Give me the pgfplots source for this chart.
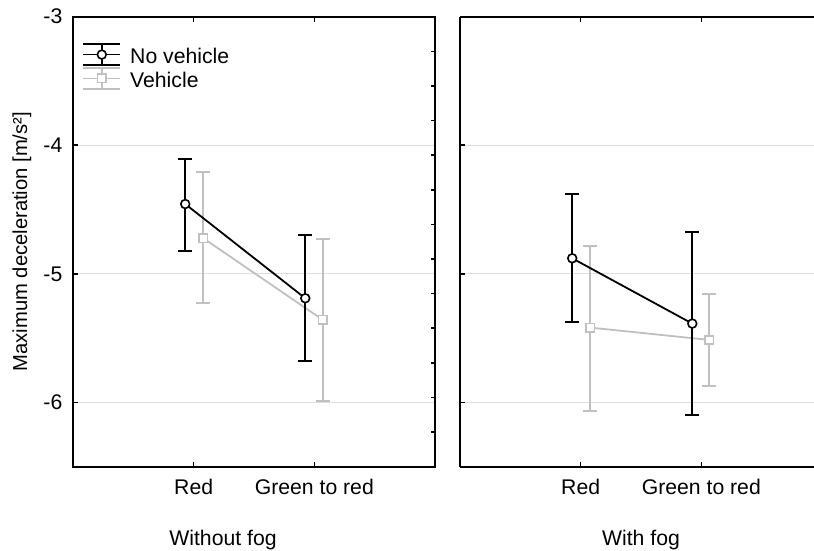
\documentclass[border=0pt]{standalone}
\usepackage{fontspec}
\setmainfont{Liberation Sans}
\usepackage{pgfplots}
\usepackage{pgfplotstable}
\pgfplotsset{compat=1.18}
\definecolor{vgray}{RGB}{192,192,192}
\definecolor{gridc}{RGB}{222,222,222}

% x  y  plus  minus
\pgfplotstableread{
x y ep em
0.93 -4.457 0.348 0.363
1.925 -5.190 0.490 0.487
}\LNV
\pgfplotstableread{
x y ep em
1.08 -4.723 0.518 0.506
2.07 -5.358 0.632 0.628
}\LV
\pgfplotstableread{
x y ep em
0.93 -4.879 0.503 0.493
1.925 -5.387 0.710 0.713
}\RNV
\pgfplotstableread{
x y ep em
1.08 -5.418 0.637 0.651
2.065 -5.514 0.358 0.358
}\RV

\pgfplotsset{
  panel/.style={
    scale only axis, height=225pt,
    xmin=0, ymin=-6.5, ymax=-3,
    xtick={1,2}, xticklabels={Red, Green to red},
    tick align=inside, major tick length=2.5pt,
    tick style={black, line width=0.8pt},
    axis line style={black, line width=1pt},
    ymajorgrids, major grid style={gridc, line width=0.6pt},
    xticklabel style={anchor=base, yshift=-13.75pt},
    font=\fontsize{10.6}{12.7}\selectfont,
    clip=false,
  },
  nvplot/.style={black, line width=0.9pt, mark=*, mark size=2.2pt,
    mark options={fill=white, draw=black, solid, line width=0.8pt},
    error bars/.cd, y dir=both, y explicit,
    error bar style={black, line width=0.9pt},
    error mark options={rotate=90, black, line width=0.9pt, mark size=3.5pt}},
  vplot/.style={vgray, line width=0.9pt, mark=square*, mark size=2.1pt,
    mark options={fill=white, draw=vgray, solid, line width=0.8pt},
    error bars/.cd, y dir=both, y explicit,
    error bar style={vgray, line width=0.9pt},
    error mark options={rotate=90, vgray, line width=0.9pt, mark size=3.5pt}},
}

\begin{document}
\begin{tikzpicture}
% left panel
\begin{axis}[panel, width=181pt, xmax=3,
  ytick={-6,-5,-4,-3}, yticklabels={{-6},{-5},{-4},{-3}},
  ytick pos=left, xtick pos=both,
  yticklabel style={anchor=east, xshift=-1.8pt},
  ylabel={Maximum deceleration [m/s²]},
  ylabel style={at={(axis description cs:-0.1409,0.5)}, anchor=center,
    font=\fontsize{10.1}{12.1}\selectfont},
  xlabel={Without fog},
  xlabel style={at={(axis cs:1.243,-6.5)}, anchor=base, yshift=-39.5pt},
  legend style={at={(axis description cs:0,1)}, anchor=north west,
    xshift=1.5pt, yshift=-11.1pt, draw=none, fill=none,
    font=\fontsize{10.6}{12.7}\selectfont, row sep=-1pt, column sep=3pt,
    nodes={inner sep=1.5pt}},
  legend cell align=left,
]
\addlegendimage{legend image code/.code={
  \draw[black,line width=0.9pt] (0pt,6.4pt)--(18.5pt,6.4pt) (0pt,1.2pt)--(18.5pt,1.2pt) (0pt,-4.0pt)--(18.5pt,-4.0pt) (9.25pt,-4.0pt)--(9.25pt,6.4pt);
  \draw[black,line width=0.8pt,fill=white] (9.25pt,1.2pt) circle (2.2pt);}}
\addlegendentry{No vehicle}
\addlegendimage{legend image code/.code={
  \draw[vgray,line width=0.9pt] (0pt,6.4pt)--(18.5pt,6.4pt) (0pt,1.2pt)--(18.5pt,1.2pt) (0pt,-4.0pt)--(18.5pt,-4.0pt) (9.25pt,-4.0pt)--(9.25pt,6.4pt);
  \draw[vgray,line width=0.8pt,fill=white] (7.15pt,-0.9pt) rectangle (11.35pt,3.3pt);}}
\addlegendentry{Vehicle}
\addplot+[forget plot, vplot] table[x=x, y=y, y error plus=ep, y error minus=em] {\LV};
\addplot+[forget plot, nvplot] table[x=x, y=y, y error plus=ep, y error minus=em] {\LNV};
\end{axis}
% right-side minor ticks of left panel
\begin{axis}[scale only axis, width=181pt, height=225pt,
  xmin=0, xmax=3, ymin=-6.5, ymax=-3,
  hide x axis, axis y line*=right,
  every outer y axis line/.append style={-},
  y axis line style={-, black, line width=1pt},
  ytick={-3.2692,-3.5385,-3.8077,-4.0769,-4.3462,-4.6154,-4.8846,-5.1538,-5.4231,-5.6923,-5.9615,-6.2308},
  yticklabels={}, tick align=inside, major tick length=2.2pt,
  tick style={black, line width=0.8pt}]
\addplot[draw=none] coordinates {(0,-6.5)};
\end{axis}
% right panel
\begin{axis}[panel, at={(193.5pt,0pt)}, anchor=south west,
  width=177pt, xmax=2.9337,
  axis x line*=box, axis y line*=left, xtick pos=both,
  every outer y axis line/.append style={-},
  every outer x axis line/.append style={-},
  x axis line style={-}, y axis line style={-},
  ytick={-6,-5,-4}, yticklabels={},
  xlabel={With fog},
  xlabel style={at={(axis cs:1.5,-6.5)}, anchor=base, yshift=-39.5pt},
]
\addplot+[vplot] table[x=x, y=y, y error plus=ep, y error minus=em] {\RV};
\addplot+[nvplot] table[x=x, y=y, y error plus=ep, y error minus=em] {\RNV};
\end{axis}
\pgfresetboundingbox
\path[use as bounding box] (-36.5pt,-42pt) rectangle (370.5pt,233.35pt);
\end{tikzpicture}
\end{document}
